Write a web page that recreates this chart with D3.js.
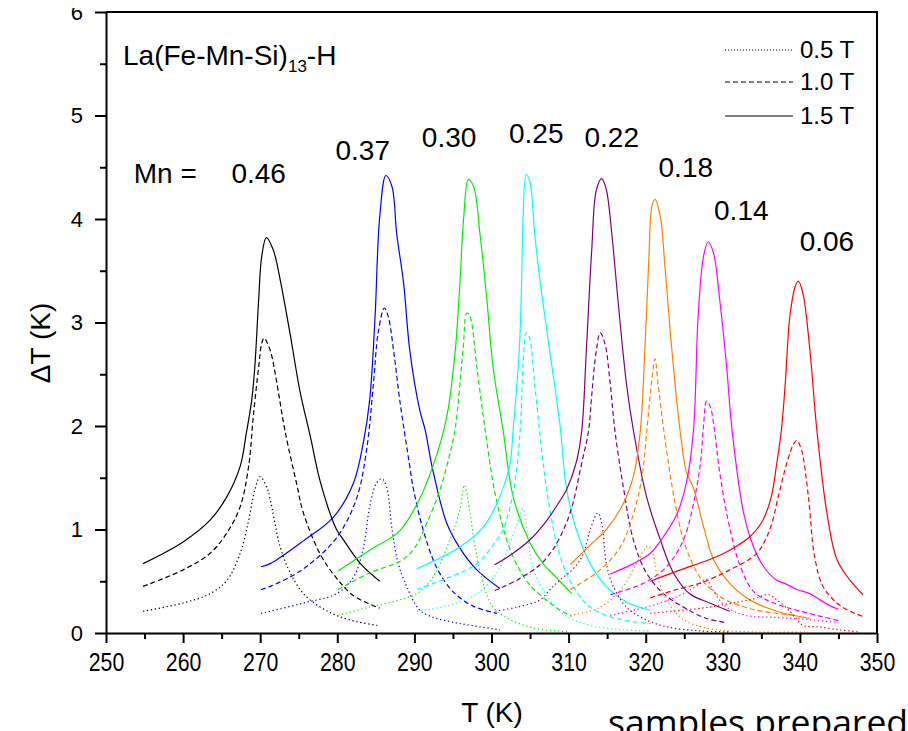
<!DOCTYPE html>
<html>
<head>
<meta charset="utf-8">
<script src="https://cdn.jsdelivr.net/npm/d3@7"></script>
<style>
  body { margin: 0; background: #fff; }
  svg { display: block; font-family: "Liberation Sans", Arial, sans-serif; }
</style>
</head>
<body>
<svg id="chart" width="908" height="731"></svg>
<script>
// ---- axis ticks ----
const tempTicks = [250, 260, 270, 280, 290, 300, 310, 320, 330, 340, 350];
const tempMinorTicks = [255, 265, 275, 285, 295, 305, 315, 325, 335, 345];
const dTTicks = [0, 1, 2, 3, 4, 5, 6];
const dTMinorTicks = [0.5, 1.5, 2.5, 3.5, 4.5, 5.5];

// ---- samples and fields ----
const compositions = ["0.46", "0.37", "0.30", "0.25", "0.22", "0.18", "0.14", "0.06"];
const fields = ["0.5 T", "1.0 T", "1.5 T"];

// ---- adiabatic temperature change, [T (K), ΔT (K)] ----
// Mn = 0.46
const mn046_05T = [[254.8,0.21],[260.0,0.29],[263.5,0.38],[265.7,0.51],[267.4,0.77],[268.5,1.09],[269.3,1.38],[270.0,1.51],[270.9,1.40],[271.3,1.29],[272.6,0.83],[273.9,0.58],[275.6,0.38],[277.8,0.25],[279.9,0.17],[282.5,0.11],[285.5,0.07]];
const mn046_10T = [[254.8,0.45],[260.0,0.61],[263.5,0.77],[265.7,0.97],[267.4,1.22],[268.5,1.61],[269.1,2.09],[269.8,2.57],[270.2,2.80],[270.5,2.85],[271.3,2.73],[272.1,2.44],[273.2,1.96],[274.7,1.45],[275.6,1.16],[277.8,0.76],[279.9,0.53],[282.1,0.36],[285.5,0.24]];
const mn046_15T = [[254.8,0.67],[260.0,0.88],[263.5,1.09],[265.7,1.32],[267.4,1.61],[268.2,1.93],[268.9,2.25],[269.3,2.57],[269.8,3.22],[270.2,3.64],[270.8,3.82],[271.7,3.70],[272.6,3.41],[273.9,2.88],[275.2,2.32],[276.5,1.90],[277.8,1.46],[279.9,1.00],[280.8,0.90],[283.0,0.67],[285.5,0.50]];
// Mn = 0.37
const mn037_05T = [[270.1,0.19],[271.3,0.21],[275.6,0.29],[279.9,0.38],[282.1,0.54],[283.4,0.83],[284.2,1.22],[285.1,1.45],[285.8,1.49],[286.4,1.41],[287.1,1.00],[287.9,0.67],[289.0,0.45],[290.7,0.22],[292.5,0.15],[294.6,0.11],[296.8,0.08],[301.1,0.03]];
const mn037_10T = [[270.1,0.42],[271.3,0.45],[275.6,0.62],[279.9,0.92],[282.5,1.30],[283.8,1.77],[284.7,2.42],[285.3,2.90],[286.1,3.14],[286.6,3.06],[287.3,2.73],[288.1,2.25],[289.4,1.61],[289.9,1.38],[291.2,0.98],[292.9,0.63],[295.0,0.40],[297.6,0.26],[300.7,0.19]];
const mn037_15T = [[270.1,0.64],[271.3,0.67],[275.6,0.89],[279.5,1.12],[282.1,1.45],[283.4,1.85],[284.2,2.25],[284.9,3.06],[285.5,4.02],[286.3,4.42],[287.1,4.31],[287.7,3.86],[288.6,3.38],[289.4,2.73],[290.7,2.15],[291.4,1.96],[292.4,1.57],[294.2,1.06],[295.9,0.82],[298.1,0.61],[301.1,0.43]];
// Mn = 0.30
const mn030_05T = [[280.1,0.17],[284.2,0.25],[288.1,0.32],[290.3,0.38],[292.4,0.54],[294.6,0.90],[295.9,1.19],[296.5,1.43],[297.2,1.16],[297.9,0.83],[298.9,0.48],[300.2,0.25],[302.4,0.13],[305.4,0.05],[308.5,0.02],[310.0,0.01]];
const mn030_10T = [[280.1,0.42],[284.2,0.58],[288.3,0.70],[290.0,0.82],[291.6,1.06],[293.3,1.38],[294.5,1.70],[295.3,1.98],[296.3,2.73],[296.8,3.09],[297.2,3.06],[298.1,2.57],[299.2,1.95],[300.6,1.30],[302.6,0.77],[304.8,0.48],[306.9,0.33],[308.5,0.24],[310.4,0.16]];
const mn030_15T = [[280.1,0.60],[284.2,0.80],[288.0,0.98],[290.3,1.24],[292.4,1.61],[294.2,2.09],[295.3,2.73],[295.9,3.38],[296.4,4.02],[297.0,4.38],[297.7,4.31],[298.5,3.86],[299.4,3.22],[300.2,2.57],[301.5,1.96],[302.8,1.32],[305.0,0.87],[306.7,0.67],[308.5,0.53],[310.4,0.38]];
// Mn = 0.25
const mn025_05T = [[290.3,0.21],[294.6,0.27],[298.1,0.38],[300.7,0.58],[302.4,0.87],[303.5,1.09],[304.1,1.20],[304.6,1.00],[305.0,0.77],[305.6,0.58],[306.7,0.42],[308.0,0.28],[310.0,0.15],[313.0,0.07],[317.0,0.03],[320.6,0.02]];
const mn025_10T = [[290.3,0.42],[294.6,0.54],[298.1,0.67],[300.7,0.90],[301.5,1.00],[302.8,1.35],[303.7,1.93],[304.1,2.60],[304.5,2.90],[304.9,2.86],[305.6,2.41],[306.5,1.77],[307.4,1.27],[308.9,0.74],[310.6,0.45],[312.8,0.25],[316.2,0.14],[320.6,0.09]];
const mn025_15T = [[290.3,0.62],[295.9,0.83],[299.0,1.03],[301.1,1.32],[302.4,1.64],[302.8,1.96],[303.6,2.73],[303.9,3.38],[304.1,4.02],[304.5,4.43],[305.0,4.35],[305.6,3.86],[306.3,3.40],[307.6,2.70],[308.9,2.00],[309.7,1.41],[311.0,1.00],[312.8,0.67],[314.9,0.45],[317.5,0.30],[320.6,0.22]];
// Mn = 0.22
const mn022_05T = [[300.5,0.21],[303.3,0.25],[306.3,0.32],[307.6,0.42],[309.0,0.52],[310.6,0.62],[311.9,0.76],[312.8,1.00],[313.8,1.16],[314.3,1.06],[314.9,0.67],[315.8,0.45],[317.5,0.25],[319.7,0.14],[322.7,0.06],[327.1,0.02],[331.0,0.01]];
const mn022_10T = [[300.4,0.41],[303.3,0.51],[306.3,0.66],[307.6,0.77],[308.5,0.87],[310.2,1.16],[311.7,1.64],[312.6,1.96],[313.0,2.30],[313.6,2.73],[314.1,2.90],[314.7,2.80],[315.4,2.41],[316.0,1.96],[317.1,1.41],[318.4,0.90],[320.1,0.58],[322.3,0.38],[324.9,0.25],[327.9,0.14],[330.5,0.10]];
const mn022_15T = [[300.4,0.66],[302.8,0.77],[305.4,0.93],[307.2,1.09],[308.9,1.28],[309.7,1.38],[311.0,1.65],[311.7,1.95],[312.3,2.73],[313.0,3.70],[313.6,4.28],[314.3,4.39],[314.9,4.28],[315.6,3.86],[316.4,3.22],[317.5,2.41],[318.4,1.96],[320.1,1.32],[321.9,0.90],[323.6,0.58],[325.7,0.38],[328.3,0.29],[330.9,0.21]];
// Mn = 0.18
const mn018_05T = [[310.2,0.17],[314.1,0.25],[317.1,0.45],[318.8,0.67],[320.3,0.84],[321.0,0.75],[321.4,0.58],[322.7,0.32],[324.9,0.13],[328.4,0.04],[334.0,0.01],[341.0,0.01]];
const mn018_10T = [[310.2,0.42],[314.1,0.61],[316.7,0.83],[318.2,1.10],[319.5,1.50],[320.2,2.00],[320.8,2.45],[321.2,2.65],[321.6,2.41],[322.4,1.93],[323.7,1.30],[325.1,0.85],[327.1,0.53],[328.4,0.43],[330.1,0.33],[334.4,0.22],[339.6,0.17]];
const mn018_15T = [[310.2,0.66],[312.8,0.85],[314.9,1.00],[317.1,1.25],[318.4,1.51],[319.3,1.95],[319.9,2.75],[320.4,3.60],[320.8,4.12],[321.2,4.19],[321.9,4.02],[322.5,3.54],[323.4,2.73],[324.5,1.93],[325.3,1.55],[326.2,1.40],[327.5,1.03],[328.8,0.71],[330.9,0.48],[333.5,0.32],[337.0,0.21],[341.3,0.14]];
// Mn = 0.14
const mn014_05T = [[315.4,0.17],[318.4,0.22],[321.9,0.29],[324.9,0.38],[327.1,0.48],[327.8,0.52],[329.0,0.38],[330.5,0.25],[333.0,0.17],[337.0,0.15],[341.0,0.13],[345.0,0.10]];
const mn014_10T = [[315.4,0.37],[319.7,0.48],[322.7,0.64],[324.9,0.90],[326.2,1.25],[327.1,1.64],[327.5,2.00],[327.9,2.24],[328.4,2.18],[328.8,2.03],[329.6,1.55],[330.8,1.05],[332.2,0.66],[334.0,0.40],[336.6,0.29],[340.1,0.21],[345.0,0.12]];
const mn014_15T = [[315.4,0.57],[318.4,0.67],[320.6,0.77],[322.3,0.93],[324.0,1.14],[325.3,1.46],[326.2,1.96],[326.8,3.06],[327.5,3.64],[328.1,3.78],[328.8,3.67],[329.6,3.22],[330.5,2.57],[331.2,1.96],[332.7,1.16],[334.0,0.83],[335.3,0.64],[337.0,0.51],[338.3,0.47],[339.6,0.42],[341.3,0.38],[342.6,0.32],[344.3,0.25],[345.0,0.23]];
// Mn = 0.06
const mn006_05T = [[320.6,0.19],[328.3,0.25],[331.3,0.29],[334.0,0.33],[335.9,0.37],[337.0,0.32],[338.7,0.21],[339.6,0.13],[340.5,0.07],[342.2,0.06],[345.2,0.03],[347.8,0.01]];
const mn006_10T = [[320.6,0.34],[324.0,0.42],[327.0,0.48],[330.9,0.61],[334.4,0.77],[336.1,1.00],[337.2,1.32],[338.3,1.64],[339.2,1.83],[339.6,1.86],[340.2,1.77],[341.1,1.32],[341.9,0.74],[343.0,0.45],[344.8,0.29],[346.5,0.21],[348.2,0.16]];
const mn006_15T = [[320.6,0.50],[324.5,0.61],[328.3,0.71],[330.9,0.80],[333.5,0.93],[335.2,1.09],[336.3,1.32],[337.0,1.64],[337.6,1.96],[338.1,2.41],[338.7,3.06],[339.4,3.35],[339.8,3.40],[340.4,3.28],[341.3,2.73],[342.2,1.96],[343.5,1.16],[344.8,0.71],[346.5,0.51],[348.2,0.37]];

const curveTable = [
  ["0.46", mn046_05T, mn046_10T, mn046_15T],
  ["0.37", mn037_05T, mn037_10T, mn037_15T],
  ["0.30", mn030_05T, mn030_10T, mn030_15T],
  ["0.25", mn025_05T, mn025_10T, mn025_15T],
  ["0.22", mn022_05T, mn022_10T, mn022_15T],
  ["0.18", mn018_05T, mn018_10T, mn018_15T],
  ["0.14", mn014_05T, mn014_10T, mn014_15T],
  ["0.06", mn006_05T, mn006_10T, mn006_15T]
];

// composition labels, placed in data coordinates above each peak
const peakLabels = [
  { text: "0.46", T: 269.8, dT: 4.35 },
  { text: "0.37", T: 283.3, dT: 4.57 },
  { text: "0.30", T: 294.5, dT: 4.70 },
  { text: "0.25", T: 305.8, dT: 4.73 },
  { text: "0.22", T: 315.6, dT: 4.70 },
  { text: "0.18", T: 325.2, dT: 4.41 },
  { text: "0.14", T: 332.4, dT: 3.99 },
  { text: "0.06", T: 343.5, dT: 3.69 }
];

// ---- styles ----
const lineColor = {
  "0.46": "#000000", "0.37": "#0000ff", "0.30": "#00ee00", "0.25": "#00ffff",
  "0.22": "#800080", "0.18": "#ff8000", "0.14": "#ff00ff", "0.06": "#ff0000"
};
const dashFor = { "0.5 T": "1.3,2.7", "1.0 T": "5,3", "1.5 T": null };

// ---- layout ----
const svg = d3.select("#chart");
const plot = { left: 106, right: 877, top: 12, bottom: 633 };
const x = d3.scaleLinear().domain([250, 350]).range([plot.left, plot.right]);
const y = d3.scaleLinear().domain([0, 6]).range([plot.bottom, plot.top]);

const line = d3.line()
  .x(d => x(d[0]))
  .y(d => y(d[1]))
  .curve(d3.curveCatmullRom.alpha(0.5));

// curves
const series = [];
curveTable.forEach(row => {
  fields.forEach((f, i) => series.push({ mn: row[0], field: f, pts: row[i + 1] }));
});

svg.append("g")
  .selectAll("path")
  .data(series)
  .join("path")
  .attr("d", d => line(d.pts))
  .attr("fill", "none")
  .attr("stroke", d => lineColor[d.mn])
  .attr("stroke-width", 1.2)
  .attr("stroke-dasharray", d => dashFor[d.field]);

// x axis
const xAxis = svg.append("g")
  .attr("transform", `translate(0,${plot.bottom})`)
  .call(d3.axisBottom(x).tickValues(tempTicks).tickFormat(d3.format("d"))
    .tickSize(10).tickSizeOuter(0).tickPadding(10));
xAxis.select(".domain").attr("stroke-width", 2);
xAxis.selectAll(".tick line").attr("stroke-width", 2);
xAxis.selectAll(".tick text")
  .attr("font-size", 26)
  .attr("font-family", "Liberation Sans, Arial, sans-serif")
  .attr("fill", "#000")
  .attr("transform", "scale(0.82,1)");

const xMinor = svg.append("g")
  .attr("transform", `translate(0,${plot.bottom})`)
  .call(d3.axisBottom(x).tickValues(tempMinorTicks).tickSize(6).tickFormat(""));
xMinor.select(".domain").remove();
xMinor.selectAll(".tick line").attr("stroke-width", 2);

// y axis (labels clipped along the top edge)
svg.append("clipPath").attr("id", "yclip")
  .append("rect").attr("x", -120).attr("y", 8).attr("width", 140).attr("height", 700);

const yAxis = svg.append("g")
  .attr("transform", `translate(${plot.left},0)`)
  .attr("clip-path", "url(#yclip)")
  .call(d3.axisLeft(y).tickValues(dTTicks).tickFormat(d3.format("d"))
    .tickSize(11).tickSizeOuter(0).tickPadding(12));
yAxis.select(".domain").attr("stroke-width", 2);
yAxis.selectAll(".tick line").attr("stroke-width", 2);
yAxis.selectAll(".tick text")
  .attr("font-size", 22)
  .attr("font-family", "Liberation Sans, Arial, sans-serif")
  .attr("fill", "#000");

const yMinor = svg.append("g")
  .attr("transform", `translate(${plot.left},0)`)
  .call(d3.axisLeft(y).tickValues(dTMinorTicks).tickSize(6).tickFormat(""));
yMinor.select(".domain").remove();
yMinor.selectAll(".tick line").attr("stroke-width", 2);

// frame top and right
svg.append("path")
  .attr("d", `M${plot.left},${plot.top}H${plot.right}V${plot.bottom}`)
  .attr("fill", "none")
  .attr("stroke", "#000")
  .attr("stroke-width", 2);

// axis titles
svg.append("text")
  .attr("x", 492).attr("y", 722)
  .attr("text-anchor", "middle")
  .attr("font-size", 28)
  .text("T (K)");

svg.append("text")
  .attr("transform", "translate(50,343) rotate(-90)")
  .attr("text-anchor", "middle")
  .attr("font-size", 28)
  .text("ΔT (K)");

// compound name
const title = svg.append("text")
  .attr("x", 123).attr("y", 65)
  .attr("font-size", 28);
title.append("tspan").text("La(Fe-Mn-Si)");
title.append("tspan").attr("font-size", 17).attr("dy", 7).text("13");
title.append("tspan").attr("dy", -7).text("-H");

// composition labels
svg.append("text")
  .attr("x", x(253.6)).attr("y", y(4.35))
  .attr("font-size", 28)
  .text("Mn =");

svg.append("g")
  .selectAll("text")
  .data(peakLabels)
  .join("text")
  .attr("x", d => x(d.T))
  .attr("y", d => y(d.dT))
  .attr("text-anchor", "middle")
  .attr("font-size", 28)
  .text(d => d.text);

// legend for applied field
const legend = svg.append("g");
const legendRows = [{ f: "0.5 T", yy: 50 }, { f: "1.0 T", yy: 82 }, { f: "1.5 T", yy: 116 }];
legendRows.forEach(r => {
  legend.append("line")
    .attr("x1", 725).attr("x2", 793)
    .attr("y1", r.yy).attr("y2", r.yy)
    .attr("stroke", "#000")
    .attr("stroke-width", 1.1)
    .attr("stroke-dasharray", r.f === "0.5 T" ? "1,2" : dashFor[r.f]);
  legend.append("text")
    .attr("x", 800).attr("y", r.yy + 8)
    .attr("font-size", 24)
    .text(r.f);
});

// caption running off the bottom edge
svg.append("text")
  .attr("x", 608).attr("y", 735)
  .attr("font-family", "'Open Sans', sans-serif")
  .attr("font-size", 35.5)
  .text("samples prepared");
</script>
</body>
</html>
